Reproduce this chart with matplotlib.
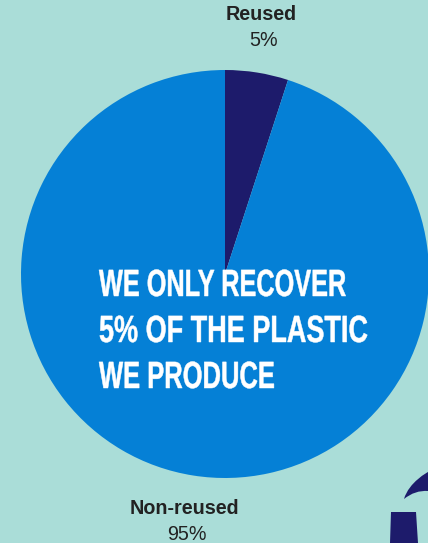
import matplotlib
matplotlib.use('Agg')
import matplotlib.pyplot as plt
from matplotlib.patches import PathPatch, Polygon
from matplotlib.path import Path
from matplotlib.patheffects import AbstractPathEffect
from matplotlib.transforms import Affine2D

# Dados do grafico
categorias = ['Reused', 'Non-reused']
valores = [5, 95]
cores = ['#1D1B6B', '#0580D6']
rotulos = ['5%', '95%']
linhas_titulo = ['WE ONLY RECOVER', '5% OF THE PLASTIC', 'WE PRODUCE']

FUNDO = '#AADDD8'
ALTURA = 543


class Esticar(AbstractPathEffect):
  """
    Estica o texto e engrossa o traco (a fonte do original e mais estreita e pesada).
  """
  def __init__(self, sx=1.0, sy=1.0, traco=0.0):
    super().__init__()
    self.sx = sx
    self.sy = sy
    self.traco = traco

  def draw_path(self, renderer, gc, tpath, affine, rgbFace=None):
    gc0 = renderer.new_gc()
    gc0.copy_properties(gc)
    gc0.set_linewidth(self.traco)
    gc0.set_foreground(rgbFace)
    renderer.draw_path(gc0, tpath, Affine2D().scale(self.sx, self.sy) + affine, rgbFace)
    gc0.restore()


def py(y):
  # Converte y medido do topo da imagem
  return ALTURA - y


fig = plt.figure(figsize=(4.28, 5.43), dpi=100, facecolor=FUNDO)
ax = fig.add_axes([0, 0, 1, 1])

# Pizza, sentido horario a partir do topo
ax.pie(valores, colors=cores, startangle=90, counterclock=False,
       center=(225, py(274)), radius=204, wedgeprops={'linewidth': 0})

ax.set_xlim(0, 428)
ax.set_ylim(0, ALTURA)
ax.set_aspect('auto')
ax.axis('off')

# Rotulos
fonte = ['Liberation Sans', 'DejaVu Sans']
cor_txt = '#222222'
ax.text(261.5, py(15), categorias[0], ha='center', va='center', fontsize=14.2,
        fontweight='bold', family=fonte, color=cor_txt)
ax.text(264, py(40), rotulos[0], ha='center', va='center', fontsize=14.2,
        family=fonte, color=cor_txt)
ax.text(184.5, py(509), categorias[1], ha='center', va='center', fontsize=14.2,
        fontweight='bold', family=fonte, color=cor_txt)
ax.text(186.5, py(535), rotulos[1], ha='center', va='center', fontsize=14.2,
        family=fonte, color=cor_txt)

# Texto central
for linha, base, sx in zip(linhas_titulo, [296, 342, 388], [1.0, 1.07, 1.01]):
  ax.text(99, py(base), linha, ha='left', va='baseline', fontsize=18.2,
          fontweight='bold', family=fonte, color='white',
          path_effects=[Esticar(sx, 1.5, 0.35)])

# Pedaco do desenho no canto inferior direito
ax.add_patch(Polygon([(391, py(512)), (416, py(512)), (418, py(543)), (390, py(543))],
                     closed=True, fc=cores[0], ec='none'))
verts = [(404, py(499)), (409, py(482)), (428, py(472)), (428, py(472)),
         (428, py(491)), (415, py(490)), (404, py(499))]
codes = [Path.MOVETO, Path.CURVE4, Path.CURVE4, Path.CURVE4,
         Path.LINETO, Path.CURVE3, Path.CURVE3]
ax.add_patch(PathPatch(Path(verts, codes), fc=cores[0], ec='none'))

fig.savefig('out.png', dpi=100, facecolor=FUNDO)
